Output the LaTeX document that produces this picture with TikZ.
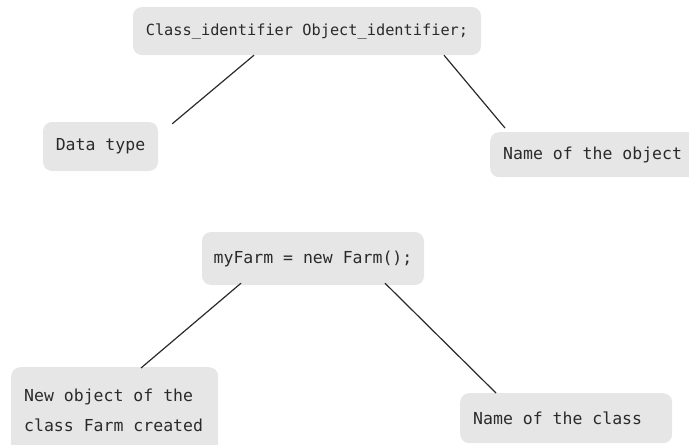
\documentclass[tikz,border=0pt]{standalone}
\usepackage{fontspec}
\setmonofont{DejaVu Sans Mono}
\usetikzlibrary{calc}
\definecolor{boxfill}{HTML}{E6E6E6}
\definecolor{ink}{HTML}{2A2A2A}
\newcommand{\lline}[2]{\makebox[#1][l]{#2}}
\tikzset{
  bubble/.style={fill=boxfill, rounded corners=9pt, text=ink, inner sep=0pt,
    font=\ttfamily\fontsize{16.5}{30}\selectfont},
  lbubble/.style={bubble, align=left, anchor=north west, inner xsep=13pt},
  link/.style={draw=ink, line width=1.2pt}
}
\begin{document}
\begin{tikzpicture}[x=1pt,y=-1pt]
\useasboundingbox (0,0) rectangle (689,445);
\node[bubble, minimum width=348pt, minimum height=48pt,
      font=\ttfamily\fontsize{15.3}{18}\selectfont] (top) at (307,31)
      {Class\_identifier Object\_identifier;};
\node[bubble, minimum width=115pt, minimum height=49pt] (dtype) at (100.5,146.5) {Data type};
\node[lbubble, minimum height=45pt] (oname) at (490,132) {\lline{190pt}{Name of the object}};
\node[bubble, minimum width=222pt, minimum height=53pt] (farm) at (313,258.5) {myFarm = new Farm();};
\node[lbubble, minimum height=86pt, inner ysep=10pt] (newobj) at (11,367)
      {\lline{181pt}{New object of the}\\\lline{181pt}{class Farm created}};
\node[lbubble, minimum height=50pt] (cname) at (460,393) {\lline{186pt}{Name of the class}};
\coordinate (e1) at ($(dtype.north east)+(14,2)$);
\coordinate (e2) at ($(oname.north west)+(15,-4)$);
\draw[link] ($(top.south)+(-53,0)$) -- (e1);
\draw[link] ($(top.south)+(137,0)$) -- (e2);
\draw[link] ($(farm.south)+(-72,-2)$) -- ($(newobj.north west)+(130,1)$);
\draw[link] ($(farm.south)+(72,-2)$) -- ($(cname.north west)+(36,0)$);
\end{tikzpicture}
\end{document}
